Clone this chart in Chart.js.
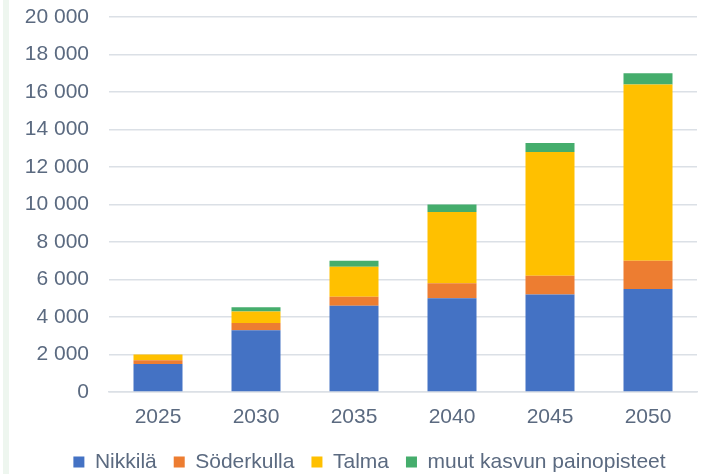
<!DOCTYPE html>
<html>
<head>
<meta charset="utf-8">
<script src="https://cdn.jsdelivr.net/npm/chart.js@4"></script>
<style>
  html, body { margin: 0; padding: 0; background: #ffffff; }
  #wrap { position: relative; width: 708px; height: 474px; }
  #strip { position: absolute; left: 3px; top: 0; width: 6px; height: 474px; background: #eef6ef; }
  canvas { position: absolute; left: 0; top: 0; }
</style>
</head>
<body>
<div id="wrap">
  <div id="strip"></div>
  <canvas id="chart" width="708" height="474"></canvas>
</div>
<script>
// values
const years = ['2025', '2030', '2035', '2040', '2045', '2050'];
const nikkila = [1500, 3300, 4600, 5000, 5200, 5500];
const soderkulla = [200, 380, 480, 800, 1000, 1500];
const talma = [300, 620, 1600, 3800, 6600, 9400];
const muut = [0, 220, 320, 400, 480, 600];

const textColor = '#5b6a80';
const gridColor = '#dbe0e6';

function spaced(v) {
    return v.toString().replace(/\B(?=(\d{3})+(?!\d))/g, ' ');
}

// nudge the legend a bit to the right, like in the original
const legendShift = {
    id: 'legendShift',
    afterLayout(chart) {
        if (chart.legend) {
            chart.legend.left += 9;
            chart.legend.right += 9;
        }
    }
};

document.addEventListener("DOMContentLoaded", function () {
    const ctx = document.getElementById('chart').getContext('2d');
    Chart.defaults.font.family = '"Liberation Sans", Arial, sans-serif';
    Chart.defaults.font.size = 21;
    Chart.defaults.color = textColor;

    new Chart(ctx, {
        type: 'bar',
        data: {
            labels: years,
            datasets: [
                { label: 'Nikkilä', data: nikkila, backgroundColor: '#4472c4' },
                { label: 'Söderkulla', data: soderkulla, backgroundColor: '#ed7d31' },
                { label: 'Talma', data: talma, backgroundColor: '#ffc000' },
                { label: 'muut kasvun painopisteet', data: muut, backgroundColor: '#45ad6c' }
            ]
        },
        plugins: [legendShift],
        options: {
            responsive: false,
            animation: false,
            layout: { padding: { left: 24, right: 11, top: 0, bottom: 0 } },
            datasets: { bar: { barPercentage: 1, categoryPercentage: 0.5, borderWidth: 0 } },
            plugins: {
                tooltip: { enabled: false },
                legend: {
                    position: 'bottom',
                    maxHeight: 39.5,
                    labels: { boxWidth: 11, boxHeight: 11, padding: 17, color: textColor }
                }
            },
            scales: {
                x: {
                    stacked: true,
                    grid: { display: false },
                    border: { display: true, color: gridColor, width: 1.5 },
                    ticks: { padding: 5, color: textColor },
                    afterFit: scale => { scale.height = 42.5; }
                },
                y: {
                    stacked: true,
                    min: 0,
                    max: 20000,
                    afterFit: scale => {
                        scale.width = 85;
                        scale.paddingTop = 17;
                        scale.paddingBottom = 0;
                    },
                    grid: { color: gridColor, lineWidth: 1.5, drawTicks: false },
                    border: { display: false },
                    ticks: { stepSize: 2000, padding: 20, color: textColor, callback: v => spaced(v) }
                }
            }
        }
    });
});
</script>
</body>
</html>
